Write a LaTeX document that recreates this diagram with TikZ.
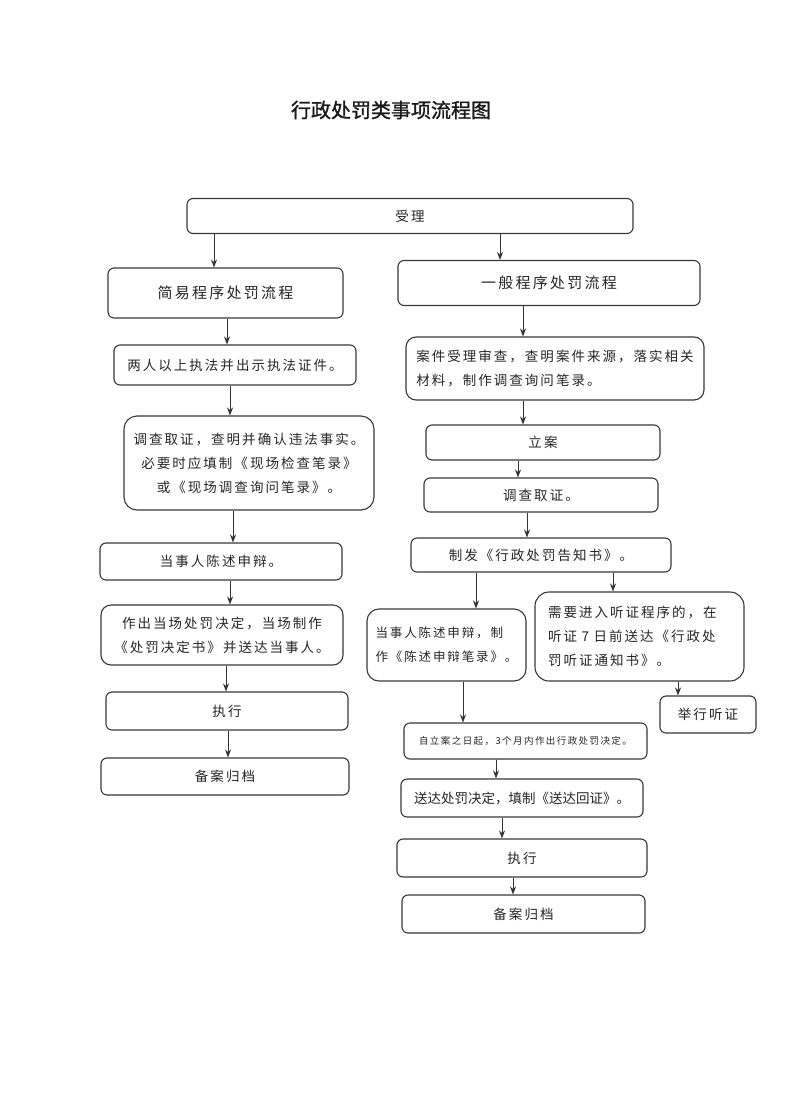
\documentclass[tikz,border=0pt]{standalone}
\usepackage{fontspec}
\setmainfont{Noto Sans CJK SC}
\newfontfamily\cn[LetterSpace=15]{Noto Sans CJK SC}
\newfontfamily\cnplain{Noto Sans CJK SC}
\newfontfamily\cntitle[FakeBold=1.2]{Noto Sans CJK SC}
\usetikzlibrary{arrows.meta}
\begin{document}
\begin{tikzpicture}[x=1pt,y=-1pt,
  box/.style={draw=black!78, line width=1.1pt, rounded corners=6pt, inner sep=0pt, align=center, text=black!85, font=\cn\fontsize{13.5}{24}\selectfont},
  rbox/.style={box, rounded corners=13pt},
  head/.style={box, font=\cn\fontsize{15}{20}\selectfont},
  arr/.style={draw=black!80, line width=1pt, -{Stealth[length=8pt,width=6pt]}}]
\useasboundingbox[fill=white] (0,0) rectangle (800,1100);

\node[font=\cntitle\fontsize{20}{24}\selectfont, text=black!90] (title) at (391,110) {行政处罚类事项流程图};

% top
\node[box, minimum width=446, minimum height=35] (shouli) at (410,216) {受理};
\node[head, minimum width=235, minimum height=50] (jianyi) at (225.5,293) {简易程序处罚流程};
\node[head, minimum width=302, minimum height=45] (yiban) at (549,283) {一般程序处罚流程};

% left column
\node[box, minimum width=242, minimum height=40] (l1) at (235,365) {两人以上执法并出示执法证件。};
\node[rbox, minimum width=250, minimum height=94] (l2) at (249,463) {调查取证，查明并确认违法事实。\\必要时应填制《现场检查笔录》\\或《现场调查询问笔录》。};
\node[box, minimum width=242, minimum height=37] (l3) at (221,561.5) {当事人陈述申辩。};
\node[box, rounded corners=10pt, minimum width=242, minimum height=60] (l4) at (222,635) {作出当场处罚决定，当场制作\\《处罚决定书》并送达当事人。};
\node[box, minimum width=242, minimum height=38] (l5) at (227,711) {执行};
\node[box, minimum width=248, minimum height=37] (l6) at (225,776.5) {备案归档};

% right column
\node[box, align=left, rounded corners=10pt, minimum width=298, minimum height=63] (r1) at (555,368.5) {案件受理审查，查明案件来源，落实相关\\材料，制作调查询问笔录。};
\node[box, minimum width=234, minimum height=35] (r2) at (543,442.5) {立案};
\node[box, minimum width=234, minimum height=34] (r3) at (541,495) {调查取证。};
\node[box, minimum width=260, minimum height=34] (r4) at (541,555) {制发《行政处罚告知书》。};
\node[box, align=left, rounded corners=12pt, minimum width=159, minimum height=72, font=\cn\fontsize{12.5}{24}\selectfont] (r5) at (446.5,645) {当事人陈述申辩，制\\作《陈述申辩笔录》。};
\node[box, align=left, rounded corners=14pt, inner xsep=13pt, text width=183pt, minimum height=89] (r6) at (639.5,636.5) {需要进入听证程序的，在\\听证 7 日前送达《行政处\\罚听证通知书》。};
\node[box, minimum width=96, minimum height=37] (r7) at (708,714.5) {举行听证};
\node[box, minimum width=243, minimum height=36, font=\cn\fontsize{9.5}{12}\selectfont] (r8) at (525.5,741) {自立案之日起，3个月内作出行政处罚决定。};
\node[box, minimum width=242, minimum height=38, font=\cnplain\fontsize{13.5}{16}\selectfont] (r9) at (522,798) {送达处罚决定，填制《送达回证》。};
\node[box, minimum width=250, minimum height=38] (r10) at (522,858) {执行};
\node[box, minimum width=243, minimum height=38] (r11) at (523.5,914) {备案归档};

% arrows
\draw[arr] (shouli.south -| 214,0) -- (jianyi.north -| 214,0);
\draw[arr] (shouli.south -| 500,0) -- (yiban.north -| 500,0);
\draw[arr] (jianyi.south -| 227,0) -- (l1.north -| 227,0);
\draw[arr] (l1.south -| 230,0) -- (l2.north -| 230,0);
\draw[arr] (l2.south -| 233,0) -- (l3.north -| 233,0);
\draw[arr] (l3.south -| 230,0) -- (l4.north -| 230,0);
\draw[arr] (l4.south -| 226,0) -- (l5.north -| 226,0);
\draw[arr] (l5.south -| 228,0) -- (l6.north -| 228,0);

\draw[arr] (yiban.south -| 523,0) -- (r1.north -| 523,0);
\draw[arr] (r1.south -| 523,0) -- (r2.north -| 523,0);
\draw[arr] (r2.south -| 518,0) -- (r3.north -| 518,0);
\draw[arr] (r3.south -| 527,0) -- (r4.north -| 527,0);
\draw[arr] (r4.south -| 476,0) -- (r5.north -| 476,0);
\draw[arr] (r4.south -| 613,0) -- (r6.north -| 613,0);
\draw[arr] (r6.south -| 678,0) -- (r7.north -| 678,0);
\draw[arr] (r5.south -| 463,0) -- (r8.north -| 463,0);
\draw[arr] (r8.south -| 496,0) -- (r9.north -| 496,0);
\draw[arr] (r9.south -| 502,0) -- (r10.north -| 502,0);
\draw[arr] (r10.south -| 513,0) -- (r11.north -| 513,0);
\end{tikzpicture}
\end{document}
